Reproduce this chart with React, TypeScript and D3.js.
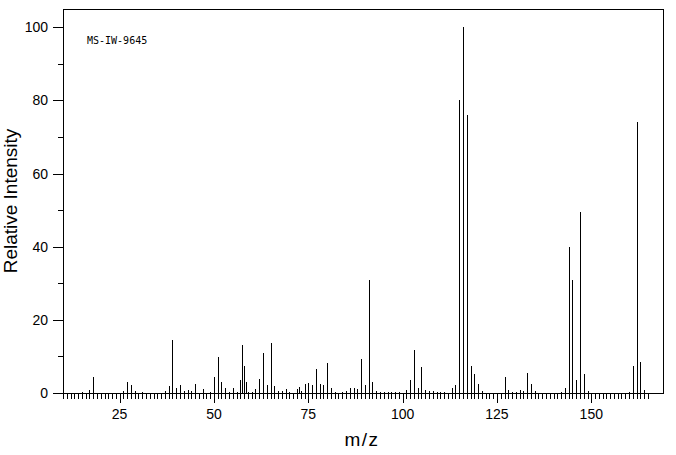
import React from "react";
import * as d3 from "d3";

// peak list (m/z, relative intensity)
const mzValues = [
  15, 17, 18, 26, 27, 28, 29, 31, 37, 38, 39, 40, 41, 42, 43, 44, 45, 47, 49,
  50, 51, 52, 53, 54, 55, 56, 57, 57.5, 58, 58.5, 59, 60, 61, 62, 63, 64, 65,
  66, 67, 68, 69, 70, 72, 72.5, 73, 74, 75, 76, 77, 78, 79, 80, 81, 82, 84, 85,
  86, 87, 88, 89, 90, 91, 92, 93, 94, 95, 96, 97, 98, 99, 101, 102, 103, 104,
  105, 106, 107, 108, 109, 110, 111, 113, 114, 115, 116, 117, 118, 119, 120,
  121, 127, 128, 129, 130, 131, 132, 133, 134, 135, 142, 143, 144, 145, 146,
  147, 148, 149, 160, 161, 162, 163, 164,
];
const intensities = [
  0.3, 0.8, 4.3, 0.5, 2.9, 2.1, 0.5, 0.2, 0.5, 1.8, 14.4, 1.3, 2.1, 0.6, 0.7,
  0.6, 2.4, 1.0, 0.3, 4.5, 9.8, 2.9, 1.5, 0.3, 1.3, 0.3, 3.5, 13.0, 7.3, 2.9,
  0.4, 0.3, 1.0, 3.7, 10.9, 2.3, 13.8, 2.0, 0.5, 0.5, 1.0, 0.3, 1.2, 1.7, 0.5,
  2.4, 2.7, 2.1, 6.5, 2.4, 2.1, 8.2, 1.3, 0.2, 0.2, 0.5, 1.3, 1.3, 1.0, 9.2,
  2.1, 31.0, 2.9, 0.5, 0.3, 0.3, 0.3, 0.3, 0.3, 0.3, 0.7, 3.5, 11.8, 1.3, 7.0,
  0.7, 0.5, 0.5, 0.2, 0.2, 0.2, 1.3, 2.1, 80.0, 100.0, 76.0, 7.5, 5.1, 2.4,
  0.5, 4.3, 0.7, 0.2, 0.2, 0.7, 0.5, 5.6, 2.4, 0.5, 0.2, 1.3, 40.0, 31.0, 3.5,
  49.5, 5.1, 0.5, 0.3, 7.3, 74.0, 8.6, 0.7,
];
const xTickLabels = [25, 50, 75, 100, 125, 150];
const yTickLabels = [0, 20, 40, 60, 80, 100];
const sampleId = "MS-IW-9645";

const W = 676;
const H = 455;
const left = 63, right = 663, top = 9, bottom = 393;

const App = () => {
  const x = d3.scaleLinear().domain([10, 169]).range([left, right]);
  const y = d3.scaleLinear().domain([0, 105]).range([bottom, top]);
  const snap = (v: number) => Math.round(v) + 0.5;

  const xMinor = d3.range(10, 166, 1);
  const yMinor = d3.range(10, 101, 20);
  const font = "'Liberation Sans', Arial, sans-serif";

  return (
    <svg
      width={W}
      height={H}
      style={{ position: "absolute", left: 0, top: 0, background: "#fff" }}
    >
      <g shapeRendering="crispEdges" stroke="#000">
        <rect
          x={left + 0.5}
          y={top + 0.5}
          width={right - left}
          height={bottom - top}
          fill="none"
          strokeWidth={1.3}
        />
        {xMinor.map(v => (
          <line
            key={"xt" + v}
            x1={snap(x(v))}
            x2={snap(x(v))}
            y1={bottom}
            y2={bottom + (v % 25 === 0 ? 10 : 6)}
          />
        ))}
        {yTickLabels.map(v => (
          <line key={"yt" + v} x1={left - 10} x2={left} y1={snap(y(v))} y2={snap(y(v))} />
        ))}
        {yMinor.map(v => (
          <line key={"ym" + v} x1={left - 5} x2={left} y1={snap(y(v))} y2={snap(y(v))} />
        ))}
        {mzValues.map((m, i) => (
          <line
            key={"p" + i}
            x1={snap(x(m))}
            x2={snap(x(m))}
            y1={bottom}
            y2={y(intensities[i])}
          />
        ))}
      </g>
      <g fontFamily={font} fontSize={14} fill="#000">
        {xTickLabels.map(v => (
          <text key={"xl" + v} x={x(v)} y={419} textAnchor="middle">
            {v}
          </text>
        ))}
        {yTickLabels.map(v => (
          <text key={"yl" + v} x={48} y={y(v) + 5} textAnchor="end">
            {v}
          </text>
        ))}
      </g>
      <text
        x={87}
        y={44}
        fontFamily="'DejaVu Sans Mono', monospace"
        fontSize={10}
      >
        {sampleId}
      </text>
      <text
        x={362}
        y={446}
        textAnchor="middle"
        fontFamily={font}
        fontSize={19}
        letterSpacing={1.5}
      >
        m/z
      </text>
      <text
        transform="translate(17,201) rotate(-90)"
        textAnchor="middle"
        fontFamily={font}
        fontSize={19}
      >
        Relative Intensity
      </text>
    </svg>
  );
};

export default App;
